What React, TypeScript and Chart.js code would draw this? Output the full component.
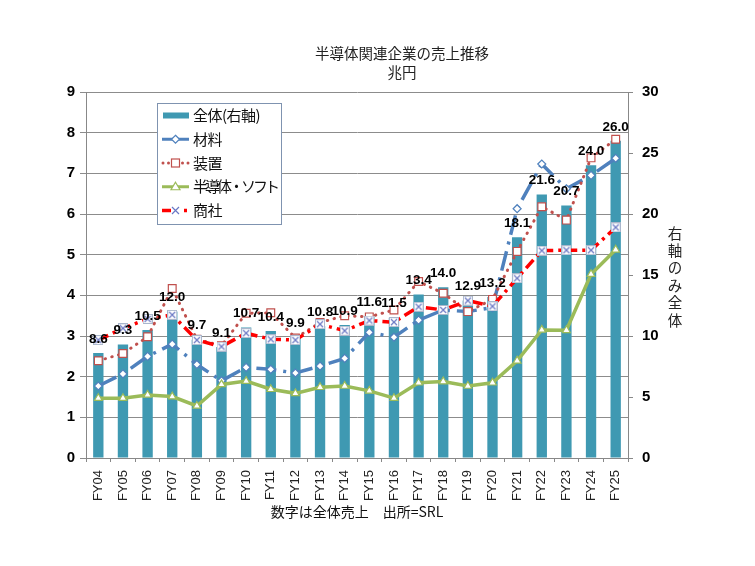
import React, { useEffect, useRef } from "react";
import { Chart, registerables } from "chart.js";

Chart.register(...registerables);

// ---- data ----
const categories = [
  "FY04", "FY05", "FY06", "FY07", "FY08", "FY09", "FY10", "FY11", "FY12", "FY13", "FY14",
  "FY15", "FY16", "FY17", "FY18", "FY19", "FY20", "FY21", "FY22", "FY23", "FY24", "FY25",
];
const totalSales = [8.6, 9.3, 10.5, 12.0, 9.7, 9.1, 10.7, 10.4, 9.9, 10.8, 10.9, 11.6, 11.5, 13.4, 14.0, 12.9, 13.2, 18.1, 21.6, 20.7, 24.0, 26.0];
const materials = [1.77, 2.07, 2.5, 2.8, 2.3, 1.9, 2.23, 2.18, 2.09, 2.26, 2.45, 3.09, 2.97, 3.39, 3.64, 3.6, 3.7, 6.13, 7.23, 6.62, 6.95, 7.37];
const equipment = [2.39, 2.57, 2.98, 4.17, 2.92, 2.76, 3.56, 3.57, 2.95, 3.33, 3.5, 3.47, 3.64, 4.34, 4.05, 3.6, 3.9, 5.08, 6.18, 5.85, 7.38, 7.84];
const semiSoft = [1.47, 1.47, 1.55, 1.51, 1.28, 1.81, 1.89, 1.69, 1.59, 1.74, 1.77, 1.65, 1.47, 1.85, 1.88, 1.77, 1.85, 2.39, 3.15, 3.14, 4.52, 5.12];
const trading = [2.9, 3.19, 3.42, 3.52, 2.9, 2.74, 3.07, 2.92, 2.9, 3.29, 3.13, 3.38, 3.34, 3.72, 3.64, 3.87, 3.73, 4.42, 5.1, 5.11, 5.11, 5.67];
const leftTicks = { min: 0, max: 9, step: 1 };
const rightTicks = { min: 0, max: 30, step: 5 };

const titleLines = ["半導体関連企業の売上推移", "兆円"];
const xTitle = "数字は全体売上　出所=SRL";
const rightTitle = "右軸のみ全体";
const seriesNames = ["全体(右軸)", "材料", "装置", "半導体・ソフト", "商社"];

// ---- styles ----
const BAR = "#3f99b2";
const BLUE = "#4f81bd";
const DRED = "#c0504d";
const GREEN = "#9bbb59";
const RED = "#ff0000";
const XCOL = "#6a78c4";
const JP = '"Noto Sans CJK JP", "Noto Sans", sans-serif';
const NUM = '"Liberation Sans", Arial, sans-serif';

function makeXMarker(): HTMLCanvasElement {
  const c = document.createElement("canvas");
  c.width = 10;
  c.height = 10;
  const g = c.getContext("2d")!;
  g.fillStyle = "#fff";
  g.fillRect(0, 0, 10, 10);
  g.strokeStyle = "#a9b6cc";
  g.lineWidth = 1;
  g.strokeRect(0.5, 0.5, 9, 9);
  g.strokeStyle = XCOL;
  g.lineWidth = 1.2;
  g.beginPath();
  g.moveTo(2, 2);
  g.lineTo(8, 8);
  g.moveTo(8, 2);
  g.lineTo(2, 8);
  g.stroke();
  return c;
}

const barLabelPlugin = {
  id: "barLabels",
  afterDatasetsDraw(chart: any) {
    const meta = chart.getDatasetMeta(0);
    const ctx = chart.ctx;
    ctx.save();
    ctx.font = `bold 13.5px ${NUM}`;
    ctx.fillStyle = "#000";
    ctx.textAlign = "center";
    ctx.textBaseline = "middle";
    meta.data.forEach((el: any, i: number) => {
      ctx.fillText(totalSales[i].toFixed(1), el.x, el.y - 14);
    });
    ctx.restore();
  },
};

const decorPlugin = {
  id: "decor",
  afterDraw(chart: any) {
    const { ctx, chartArea } = chart;
    ctx.save();
    // title
    const cx = (chartArea.left + chartArea.right) / 2 + 45;
    ctx.fillStyle = "#222";
    ctx.font = `14.5px ${JP}`;
    ctx.textAlign = "center";
    ctx.textBaseline = "middle";
    ctx.fillText(titleLines[0], cx, chartArea.top - 39);
    ctx.fillText(titleLines[1], cx, chartArea.top - 20);

    // right axis title (vertical, upright)
    ctx.font = `14.5px ${JP}`;
    const rx = chartArea.right + 47;
    const chars = Array.from(rightTitle);
    chars.forEach((ch, i) => {
      ctx.fillText(ch, rx, chartArea.top + 141 + i * 17.4);
    });

    // legend
    const x0 = chartArea.left + 71;
    const y0 = chartArea.top + 11;
    const w = 124;
    const h = 121;
    ctx.fillStyle = "#fff";
    ctx.fillRect(x0, y0, w, h);
    ctx.strokeStyle = "#7f93b0";
    ctx.lineWidth = 1;
    ctx.strokeRect(Math.round(x0) + 0.5, Math.round(y0) + 0.5, w, h);

    const rowY = (i: number) => y0 + 12.5 + i * 23.75;
    const sx0 = x0 + 5;
    const sx1 = x0 + 32;
    const mx = x0 + 18.5;

    // 0: bar swatch
    ctx.fillStyle = BAR;
    ctx.fillRect(x0 + 6, rowY(0) - 3, 26, 6);

    // 1: materials
    let y = rowY(1);
    ctx.strokeStyle = BLUE;
    ctx.lineWidth = 3;
    ctx.beginPath();
    ctx.moveTo(sx0, y);
    ctx.lineTo(sx1, y);
    ctx.stroke();
    ctx.beginPath();
    ctx.moveTo(mx, y - 4);
    ctx.lineTo(mx + 4, y);
    ctx.lineTo(mx, y + 4);
    ctx.lineTo(mx - 4, y);
    ctx.closePath();
    ctx.fillStyle = "#fff";
    ctx.fill();
    ctx.lineWidth = 1.2;
    ctx.stroke();

    // 2: equipment
    y = rowY(2);
    ctx.fillStyle = DRED;
    [sx0 + 1, sx0 + 6.5, sx1 - 6.5, sx1 - 1].forEach((dx) => {
      ctx.beginPath();
      ctx.arc(dx, y, 1.5, 0, Math.PI * 2);
      ctx.fill();
    });
    ctx.fillStyle = "#fff";
    ctx.fillRect(mx - 4, y - 4, 8, 8);
    ctx.strokeStyle = DRED;
    ctx.lineWidth = 1.2;
    ctx.strokeRect(mx - 4, y - 4, 8, 8);

    // 3: semi/soft
    y = rowY(3);
    ctx.strokeStyle = GREEN;
    ctx.lineWidth = 3;
    ctx.beginPath();
    ctx.moveTo(sx0, y);
    ctx.lineTo(sx1, y);
    ctx.stroke();
    ctx.beginPath();
    ctx.moveTo(mx, y - 4.5);
    ctx.lineTo(mx + 4.5, y + 3);
    ctx.lineTo(mx - 4.5, y + 3);
    ctx.closePath();
    ctx.fillStyle = "#fff";
    ctx.fill();
    ctx.lineWidth = 1.2;
    ctx.stroke();

    // 4: trading
    y = rowY(4);
    ctx.strokeStyle = RED;
    ctx.lineWidth = 3.5;
    ctx.beginPath();
    ctx.moveTo(sx0, y);
    ctx.lineTo(sx0 + 9, y);
    ctx.stroke();
    ctx.fillStyle = RED;
    ctx.fillRect(sx1 - 5, y - 1.75, 3, 3.5);
    ctx.strokeStyle = XCOL;
    ctx.lineWidth = 1.2;
    ctx.beginPath();
    ctx.moveTo(mx - 3.5, y - 3.5);
    ctx.lineTo(mx + 3.5, y + 3.5);
    ctx.moveTo(mx + 3.5, y - 3.5);
    ctx.lineTo(mx - 3.5, y + 3.5);
    ctx.stroke();

    // legend texts
    ctx.fillStyle = "#111";
    ctx.font = `15px ${JP}`;
    ctx.textAlign = "left";
    ctx.textBaseline = "middle";
    const spacing = ["-0.5px", "-0.5px", "-0.5px", "-3px", "-0.5px"];
    seriesNames.forEach((name, i) => {
      try {
        (ctx as any).letterSpacing = spacing[i];
      } catch (e) {}
      ctx.fillText(name, x0 + 36, rowY(i));
    });
    ctx.restore();
  },
};

export default function App() {
  const ref = useRef<HTMLCanvasElement | null>(null);

  useEffect(() => {
    if (!ref.current) return;
    const xMarker = makeXMarker();
    const chart = new Chart(ref.current, {
      type: "bar",
      data: {
        labels: categories,
        datasets: [
          {
            type: "bar",
            label: seriesNames[0],
            data: totalSales,
            yAxisID: "y1",
            backgroundColor: BAR,
            borderWidth: 0,
            barPercentage: 0.42,
            categoryPercentage: 1,
            order: 10,
          } as any,
          {
            type: "line",
            label: seriesNames[1],
            data: materials,
            yAxisID: "y",
            borderColor: BLUE,
            borderWidth: 3.5,
            borderDash: [20, 7, 3, 7],
            tension: 0,
            fill: false,
            pointStyle: "rectRot",
            pointRadius: 4,
            pointBackgroundColor: "#fff",
            pointBorderColor: BLUE,
            pointBorderWidth: 1.2,
            order: 5,
          },
          {
            type: "line",
            label: seriesNames[2],
            data: equipment,
            yAxisID: "y",
            borderColor: DRED,
            borderWidth: 3,
            borderDash: [0.5, 6.5],
            borderCapStyle: "round",
            tension: 0,
            fill: false,
            pointStyle: "rect",
            pointRadius: 5.5,
            pointBackgroundColor: "#fff",
            pointBorderColor: DRED,
            pointBorderWidth: 1.2,
            order: 4,
          },
          {
            type: "line",
            label: seriesNames[3],
            data: semiSoft,
            yAxisID: "y",
            borderColor: GREEN,
            borderWidth: 3.5,
            tension: 0,
            fill: false,
            pointStyle: "triangle",
            pointRadius: 4.5,
            pointBackgroundColor: "#fff",
            pointBorderColor: GREEN,
            pointBorderWidth: 1.2,
            order: 3,
          },
          {
            type: "line",
            label: seriesNames[4],
            data: trading,
            yAxisID: "y",
            borderColor: RED,
            borderWidth: 3.5,
            borderDash: [11, 5, 3, 5],
            tension: 0,
            fill: false,
            pointStyle: xMarker as any,
            pointRadius: 5,
            order: 2,
          },
        ],
      },
      options: {
        responsive: false,
        animation: false,
        events: [],
        layout: { padding: { left: 40, right: 79, top: 84, bottom: 20 } },
        plugins: {
          legend: { display: false },
          title: { display: false },
          tooltip: { enabled: false },
        },
        scales: {
          x: {
            grid: {
              display: true,
              drawOnChartArea: false,
              drawTicks: true,
              tickLength: 4,
              color: "#888",
              offset: true,
            },
            border: { display: true, color: "#888", width: 1 },
            ticks: {
              minRotation: 90,
              maxRotation: 90,
              autoSkip: false,
              padding: 8,
              color: "#222",
              font: { family: NUM, size: 13 },
            },
            title: {
              display: true,
              text: xTitle,
              color: "#111",
              font: { family: JP, size: 14 },
              padding: { top: 0, bottom: 18 },
            },
            afterFit: (s: any) => {
              s.height = 80;
            },
          },
          y: {
            type: "linear",
            position: "left",
            min: leftTicks.min,
            max: leftTicks.max,
            ticks: {
              stepSize: leftTicks.step,
              color: "#000",
              padding: 5,
              font: { family: NUM, size: 15, weight: "bold" },
            },
            grid: { color: "#8c8c8c", lineWidth: 1, tickLength: 6 },
            border: { display: true, color: "#888" },
            afterFit: (s: any) => {
              s.width = 38;
            },
          },
          y1: {
            type: "linear",
            position: "right",
            min: rightTicks.min,
            max: rightTicks.max,
            ticks: {
              stepSize: rightTicks.step,
              color: "#000",
              padding: 9,
              font: { family: NUM, size: 15, weight: "bold" },
            },
            grid: { drawOnChartArea: false, tickLength: 5, color: "#888" },
            border: { display: true, color: "#888" },
            afterFit: (s: any) => {
              s.width = 40;
            },
          },
        },
      } as any,
      plugins: [barLabelPlugin, decorPlugin],
    });
    return () => chart.destroy();
  }, []);

  return (
    <div style={{ width: 739, height: 550, background: "#fff" }}>
      <canvas ref={ref} width={739} height={550} />
    </div>
  );
}
